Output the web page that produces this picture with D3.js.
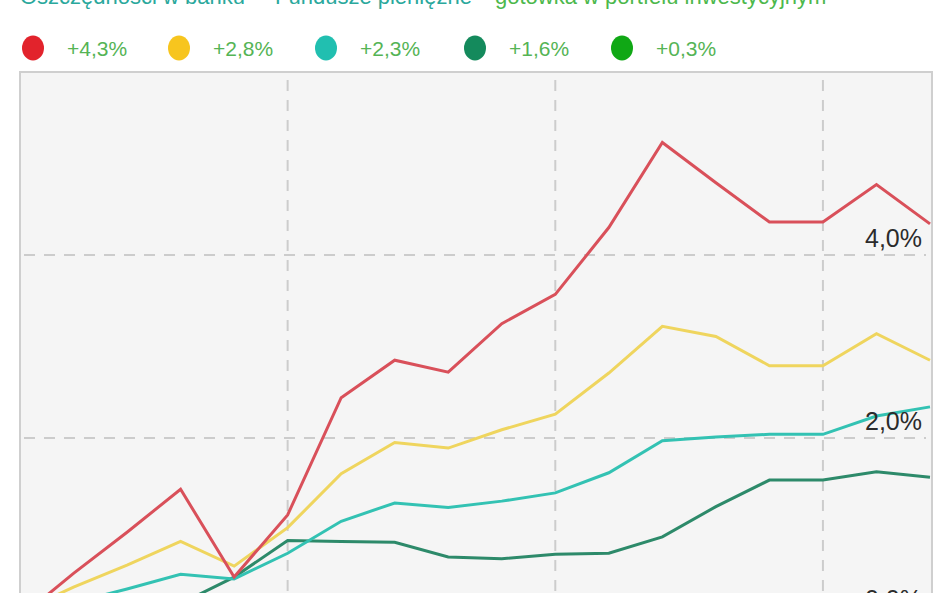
<!DOCTYPE html>
<html>
<head>
<meta charset="utf-8">
<script src="https://cdn.jsdelivr.net/npm/d3@7"></script>
<style>
  html, body { margin: 0; padding: 0; background: #ffffff; overflow: hidden; }
  svg { display: block; }
</style>
</head>
<body>
<svg id="chart" width="948" height="593"></svg>
<script>
// ---- data ----
const periods = d3.range(18); // 18 observations, index 0..17
const seriesNames = ["+4,3%", "+2,8%", "+2,3%", "+1,6%", "+0,3%"];
const redValues    = [0.04, 0.52, 0.97, 1.44, 0.48, 1.16, 2.44, 2.85, 2.72, 3.25, 3.57, 4.30, 5.23, 4.79, 4.36, 4.36, 4.77, 4.34];
const yellowValues = [0.10, 0.37, 0.61, 0.87, 0.60, 1.02, 1.61, 1.95, 1.89, 2.09, 2.26, 2.71, 3.22, 3.11, 2.79, 2.79, 3.14, 2.85];
const tealValues   = [0.04, 0.20, 0.35, 0.51, 0.46, 0.74, 1.09, 1.29, 1.24, 1.31, 1.40, 1.62, 1.97, 2.01, 2.04, 2.04, 2.24, 2.34];
const dkGreenValues= [0.00, -0.05, 0.05, 0.19, 0.48, 0.88, 0.87, 0.86, 0.70, 0.68, 0.73, 0.74, 0.92, 1.25, 1.54, 1.54, 1.63, 1.57];
const greenValues  = [0.00, -0.15, -0.25, -0.10, 0.08, 0.18, 0.10, 0.02, -0.08, -0.15, -0.08, 0.00, 0.10, 0.18, 0.22, 0.18, 0.26, 0.27];
const yTickValues = [0, 2, 4];
const yTickLabels = ["0,0%", "2,0%", "4,0%"];
const xGridIndices = [5, 10, 15];
const titleParts = ["Oszczędności w banku", "Fundusze pieniężne", "gotówka w portfelu inwestycyjnym"];

const series = [
  { name: seriesNames[0], values: redValues,     dot: "#e2232c", line: "#d9505a" },
  { name: seriesNames[1], values: yellowValues,  dot: "#f7c51e", line: "#efd55e" },
  { name: seriesNames[2], values: tealValues,    dot: "#21bfb0", line: "#33c2b3" },
  { name: seriesNames[3], values: dkGreenValues, dot: "#148a5c", line: "#2d8a6a" },
  { name: seriesNames[4], values: greenValues,   dot: "#10a815", line: "#2aa82a" }
];

// ---- layout ----
const svg = d3.select("#chart");
const plot = { left: 20, right: 932, top: 72, bottom: 700 };

const x = d3.scaleLinear().domain([0, 17]).range([20, 930]);
const y = d3.scaleLinear().domain([0, 6]).range([621, 72]);

// partial title (cut off at the top, as in the reference)
const titleX = [20, 275, 495];
const titleColors = ["#2aa89c", "#2aa89c", "#4cb84c"];
svg.selectAll("text.title").data(titleParts).enter().append("text")
  .attr("class", "title")
  .attr("x", (d, i) => titleX[i]).attr("y", 4)
  .attr("font-family", "Arial, 'Liberation Sans', sans-serif")
  .attr("font-size", 22)
  .attr("fill", (d, i) => titleColors[i])
  .text(d => d);

// legend
const legendX = [33, 179, 326, 475, 622];
const lg = svg.append("g");
series.forEach((s, i) => {
  lg.append("ellipse").attr("cx", legendX[i]).attr("cy", 48).attr("rx", 11).attr("ry", 12.5).attr("fill", s.dot);
  lg.append("text").attr("x", legendX[i] + 34).attr("y", 56)
    .attr("font-family", "Arial, 'Liberation Sans', sans-serif")
    .attr("font-size", 21)
    .attr("fill", "#55b455")
    .text(s.name);
});

// plot background
svg.append("rect")
  .attr("x", plot.left).attr("y", plot.top)
  .attr("width", plot.right - plot.left).attr("height", plot.bottom - plot.top)
  .attr("fill", "#f5f5f5").attr("stroke", "#cfcfcf").attr("stroke-width", 2);

// grid
const grid = svg.append("g");
grid.selectAll("line.v").data(xGridIndices).enter().append("line")
  .attr("x1", d => x(d)).attr("x2", d => x(d))
  .attr("y1", plot.top + 8).attr("y2", plot.bottom)
  .attr("stroke", "#cccccc").attr("stroke-width", 2).attr("stroke-dasharray", "11,9");
grid.selectAll("line.h").data(yTickValues).enter().append("line")
  .attr("x1", plot.left + 4).attr("x2", plot.right - 6)
  .attr("y1", d => y(d)).attr("y2", d => y(d))
  .attr("stroke", "#cccccc").attr("stroke-width", 2).attr("stroke-dasharray", "11,9");

// lines
const line = d3.line().x((d, i) => x(periods[i])).y(d => y(d));
const drawOrder = [4, 3, 2, 1, 0];
drawOrder.forEach(k => {
  const s = series[k];
  svg.append("path").datum(s.values)
    .attr("d", line)
    .attr("fill", "none")
    .attr("stroke", s.line)
    .attr("stroke-width", 3)
    .attr("stroke-linejoin", "miter");
});

// y labels (inside plot, right aligned)
svg.selectAll("text.ylab").data(yTickValues).enter().append("text")
  .attr("class", "ylab")
  .attr("x", 922).attr("y", d => y(d) - (d === 0 ? 13 : 8))
  .attr("text-anchor", "end")
  .attr("font-family", "Arial, 'Liberation Sans', sans-serif")
  .attr("font-size", 25)
  .attr("fill", "#2b2b2b")
  .text((d, i) => yTickLabels[i]);
</script>
</body>
</html>
